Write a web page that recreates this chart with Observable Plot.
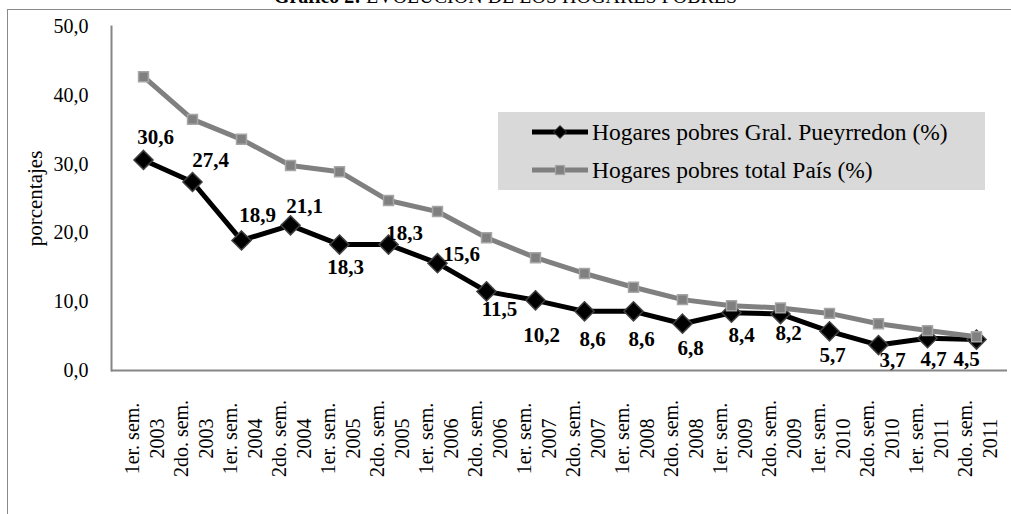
<!DOCTYPE html>
<html>
<head>
<meta charset="utf-8">
<script src="https://cdn.jsdelivr.net/npm/d3@7"></script>
<script src="https://cdn.jsdelivr.net/npm/@observablehq/plot@0.6"></script>
<style>
  html, body { margin: 0; padding: 0; background: #fff; overflow: hidden; width: 1011px; height: 514px; }
  #wrap { position: relative; width: 1011px; height: 514px; font-family: "Liberation Serif", "Times New Roman", serif; }
  #border { position: absolute; left: 7px; top: 9px; width: 1100px; height: 600px; border: 1.5px solid #8a8a8a; box-sizing: border-box; }
  #title { position: absolute; left: 0; width: 1011px; top: -15px; text-align: center; font-size: 20px; color: #000; white-space: nowrap; font-family: "Liberation Serif", serif; }
  #chart { position: absolute; left: 0; top: 0; }
  #legend { position: absolute; left: 498px; top: 112px; width: 487px; height: 78px; background: #d9d9d9; }
  .lg { position: absolute; left: 34px; height: 30px; display: flex; align-items: center; color: #000; white-space: nowrap; }
  .lg span { font-family: "Liberation Serif", serif; font-size: 23.5px; }
  .lg svg { margin-right: 4px; }
</style>
</head>
<body>
<div id="wrap">
  <div id="border"></div>
  <div id="title"><b>Gráfico 2:</b> EVOLUCIÓN DE LOS HOGARES POBRES</div>
  <div id="chart"></div>
  <div id="legend">
    <div class="lg" style="top:5px">
      <svg width="56" height="20"><line x1="0" y1="10" x2="56" y2="10" stroke="#000" stroke-width="5"/><path d="M28,3.5 L34.5,10 L28,16.5 L21.5,10 Z" fill="#000" stroke="#404040" stroke-width="1"/></svg>
      <span>Hogares pobres Gral. Pueyrredon (%)</span>
    </div>
    <div class="lg" style="top:43px">
      <svg width="56" height="20"><line x1="0" y1="10" x2="56" y2="10" stroke="#808080" stroke-width="5"/><rect x="23.5" y="5.5" width="9" height="9" fill="#808080" stroke="#a6a6a6" stroke-width="1.2"/></svg>
      <span>Hogares pobres total País (%)</span>
    </div>
  </div>
</div>
<script>
// ---- data ----
const categories = [
  "1er. sem.\n2003", "2do. sem.\n2003",
  "1er. sem.\n2004", "2do. sem.\n2004",
  "1er. sem.\n2005", "2do. sem.\n2005",
  "1er. sem.\n2006", "2do. sem.\n2006",
  "1er. sem.\n2007", "2do. sem.\n2007",
  "1er. sem.\n2008", "2do. sem.\n2008",
  "1er. sem.\n2009", "2do. sem.\n2009",
  "1er. sem.\n2010", "2do. sem.\n2010",
  "1er. sem.\n2011", "2do. sem.\n2011"
];
const pueyrredon = [30.6, 27.4, 18.9, 21.1, 18.3, 18.3, 15.6, 11.5, 10.2, 8.6, 8.6, 6.8, 8.4, 8.2, 5.7, 3.7, 4.7, 4.5];
const totalPais  = [42.7, 36.5, 33.6, 29.8, 28.9, 24.7, 23.1, 19.3, 16.4, 14.1, 12.1, 10.3, 9.4, 9.1, 8.3, 6.8, 5.8, 4.9];
const yTicks = [0, 10, 20, 30, 40, 50];

// label placement (pixel offsets from each point), styling only
const labelOffsets = [
  [12, -23], [18, -22], [16, -25], [14, -19], [6, 23], [16, -11],
  [24, -9], [13, 18], [6, 35], [8, 28], [8, 28], [8, 25],
  [10, 23], [8, 19], [3, 24], [14, 15], [6, 21], [-10, 20]
];

const fmt = d => d.toFixed(1).replace(".", ",");
const rowsP = categories.map((c, i) => ({cat: c, v: pueyrredon[i], i}));
const rowsT = categories.map((c, i) => ({cat: c, v: totalPais[i], i}));

const labelMarks = rowsP.map((r, i) => Plot.text([r], {
  x: "cat", y: "v", text: d => fmt(d.v),
  dx: labelOffsets[i][0], dy: labelOffsets[i][1],
  fontSize: 21, fontWeight: "bold", fill: "#000"
}));

const chart = Plot.plot({
  width: 1011,
  height: 514,
  marginLeft: 111,
  marginRight: 4,
  marginTop: 26,
  marginBottom: 144,
  style: { fontFamily: "Liberation Serif, Times New Roman, serif", background: "transparent", color: "#000" },
  x: { type: "point", domain: categories, padding: 0.5 },
  y: { domain: [0, 50] },
  marks: [
    Plot.axisY({ ticks: yTicks, tickFormat: fmt, tickSize: 0, tickPadding: 23, fontSize: 20, label: null }),
    Plot.text(["porcentajes"], { frameAnchor: "left", dx: -76, rotate: -90, textAnchor: "middle", fontSize: 21, fill: "#000" }),
    Plot.axisX({ tickSize: 0, tickRotate: -90, textAnchor: "middle", lineAnchor: "middle", lineHeight: 1.25, tickPadding: 68, fontSize: 20, label: null }),
    Plot.frame({ anchor: "left", stroke: "#868686", strokeWidth: 2 }),
    Plot.ruleY([0], { stroke: "#868686", strokeWidth: 2 }),
    Plot.line(rowsP, { x: "cat", y: "v", stroke: "#000", strokeWidth: 5 }),
    Plot.dot(rowsP, { x: "cat", y: "v", symbol: "diamond2", r: 8.6, fill: "#000", stroke: "#404040", strokeWidth: 1.5 }),
    Plot.line(rowsT, { x: "cat", y: "v", stroke: "#808080", strokeWidth: 5 }),
    Plot.dot(rowsT, { x: "cat", y: "v", symbol: "square", r: 5.6, fill: "#808080", stroke: "#a6a6a6", strokeWidth: 1.5 }),
    ...labelMarks
  ]
});
document.getElementById("chart").appendChild(chart);
</script>
</body>
</html>
